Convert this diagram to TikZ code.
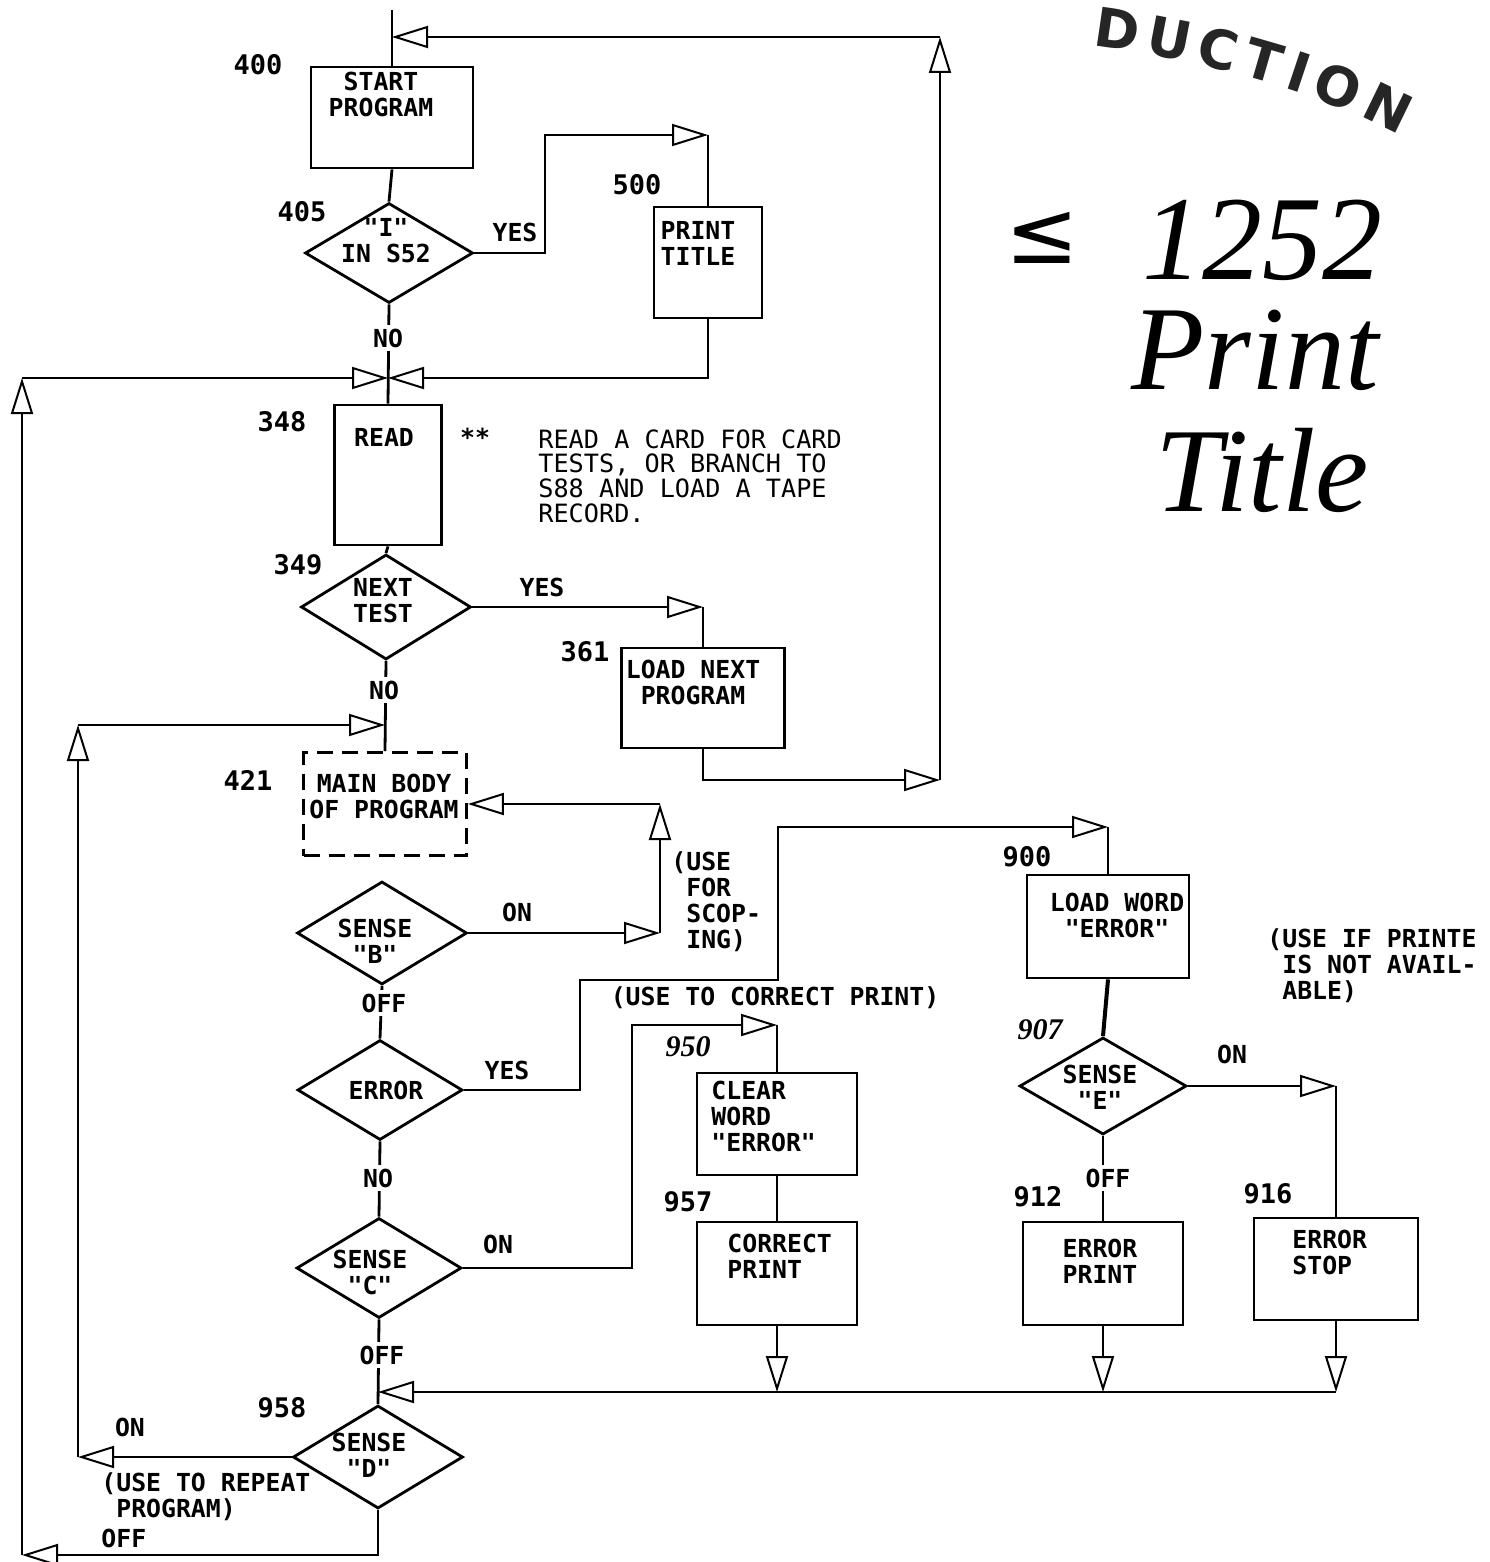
\documentclass[tikz,border=0pt]{standalone}
\usepackage{fontspec}
\setmonofont{DejaVu Sans Mono}
\renewcommand{\familydefault}{\ttdefault}
\newfontfamily\handfont{Liberation Serif}
\newfontfamily\stampfont{DejaVu Sans}
\usetikzlibrary{arrows.meta,shapes.geometric,decorations.text}
\begin{document}
\begin{tikzpicture}[x=0.5pt,y=-0.5pt,line width=1.4pt,
  box/.style={draw,line width=1.4pt,inner sep=0pt},
  dbox/.style={box,dash pattern=on 8pt off 4.5pt},
  dia/.style={diamond,draw,line width=1.4pt,inner sep=0pt},
  txt/.style={font=\ttfamily\bfseries\fontsize{12.4}{13}\selectfont,align=center,inner sep=0pt},
  ltxt/.style={txt,align=left},
  gap/.style={txt,fill=white,inner sep=2pt},
  num/.style={font=\ttfamily\bfseries\fontsize{13.5}{15}\selectfont,inner sep=0pt},
  hnum/.style={font=\handfont\bfseries\itshape\fontsize{15}{15}\selectfont,inner sep=0pt},
  note/.style={font=\ttfamily\fontsize{12.6}{12.4}\selectfont,align=left,inner sep=0pt},
  hand/.style={font=\handfont\itshape\fontsize{60}{60}\selectfont,inner sep=0pt},
  arr/.style={-{Triangle[open,length=18pt,width=11pt,line width=1pt]}}]
\fill[white] (0,0) rectangle (1489,1562);
\useasboundingbox (0,0) rectangle (1489,1562);

% ---------- boxes ----------
\node[box,minimum width=81pt,minimum height=50.5pt] (start) at (392,117.5) {};
\node[txt] (startT) at (381,94) {START\\PROGRAM};
\node[box,minimum width=54pt,minimum height=55.5pt] (print) at (708,262.5) {};
\node[ltxt] (printT) at (698,243) {PRINT\\TITLE};
\node[box,minimum width=53.5pt,minimum height=70pt] (read) at (388,475) {};
\node[txt] (readT) at (384,437) {READ};
\node[box,minimum width=81.5pt,minimum height=50pt] (lnp) at (703,698) {};
\node[txt] (lnpT) at (693,682) {LOAD NEXT\\PROGRAM};
\node[dbox,minimum width=81.5pt,minimum height=51.5pt] (main) at (385,804) {};
\node[txt] (mainT) at (384,796) {MAIN BODY\\OF PROGRAM};
\node[box,minimum width=81pt,minimum height=51.5pt] (ldw) at (1108,926.5) {};
\node[txt] (ldwT) at (1117,915) {LOAD WORD\\"ERROR"};
\node[box,minimum width=80pt,minimum height=51pt] (clear) at (777,1124) {};
\node[ltxt,anchor=west] (clearT) at (710,1116) {CLEAR\\WORD\\"ERROR"};
\node[box,minimum width=80pt,minimum height=51.5pt] (correct) at (777,1273.5) {};
\node[ltxt,anchor=west] (correctT) at (726,1256) {CORRECT\\PRINT};
\node[box,minimum width=80pt,minimum height=51.5pt] (eprint) at (1103,1273.5) {};
\node[txt] (eprintT) at (1100,1261) {ERROR\\PRINT};
\node[box,minimum width=82pt,minimum height=51pt] (estop) at (1336,1269) {};
\node[ltxt,anchor=west] (estopT) at (1291,1252) {ERROR\\STOP};

% ---------- diamonds ----------
\node[dia,minimum width=84pt,minimum height=50pt] (d405) at (389,253) {};
\node[txt] (d405T) at (386,241) {"I"\\IN S52};
\node[dia,minimum width=85pt,minimum height=52.5pt] (d349) at (386,607) {};
\node[txt] (d349T) at (383,601) {NEXT\\TEST};
\node[dia,minimum width=85pt,minimum height=51.5pt] (dB) at (382,933) {};
\node[txt] (dBT) at (375,941) {SENSE\\"B"};
\node[dia,minimum width=82.5pt,minimum height=50pt] (dErr) at (380,1090) {};
\node[txt] (dErrT) at (386,1090) {ERROR};
\node[dia,minimum width=82.5pt,minimum height=50pt] (dC) at (379,1268) {};
\node[txt] (dCT) at (370,1272) {SENSE\\"C"};
\node[dia,minimum width=85pt,minimum height=51.5pt] (dD) at (378,1457) {};
\node[txt] (dDT) at (369,1455) {SENSE\\"D"};
\node[dia,minimum width=83.5pt,minimum height=48.5pt] (dE) at (1103,1086) {};
\node[txt] (dET) at (1100,1087) {SENSE\\"E"};

% ---------- corner coordinates ----------
\coordinate (ctop0) at (392,10);
\coordinate (ctopL) at (392,37);
\coordinate (ctopR) at (940,37);
\coordinate (cR780) at (940,780);
\coordinate (c4a) at (545,135);
\coordinate (c4b) at (708,135);
\coordinate (cBow) at (388,378);
\coordinate (cL378) at (22,378);
\coordinate (cL1555) at (22,1555);
\coordinate (c7) at (703,607);
\coordinate (c8) at (385,725);
\coordinate (c9a) at (78,1457);
\coordinate (c9b) at (78,725);
\coordinate (c10a) at (660,933);
\coordinate (c10b) at (660,804);
\coordinate (c12a) at (580,980);
\coordinate (c12b) at (778,827);
\coordinate (c12c) at (1108,827);
\coordinate (c14) at (1336,1086);
\coordinate (c16) at (1103,1392);
\coordinate (c17) at (1336,1392);
\coordinate (c18) at (777,1392);
\coordinate (c19) at (378,1392);
\coordinate (c20a) at (632,1025);
\coordinate (c20b) at (777,1025);

% ---------- connectors ----------
\draw (ctop0) -- (start.north);
\draw[arr] (lnp.south) |- (cR780);
\draw[arr] (cR780) -- (ctopR);
\draw[arr] (ctopR) -- (ctopL);
\draw (start.south) -- (d405.north);
\draw[arr] (d405.east) -| (c4a) -- (c4b);
\draw (c4b) -- (print.north);
\draw[arr] (print.south) |- (cBow);
\draw[arr] (cL1555) -- (cL378);
\draw[arr] (cL378) -- (cBow);
\draw (d405.south) -- (read.north);
\draw (read.south) -- (d349.north);
\draw[arr] (d349.east) -- (c7);
\draw (c7) -- (lnp.north);
\draw (d349.south) -- (main.north);
\draw[arr] (dD.west) -- (c9a);
\draw[arr] (c9a) -- (c9b);
\draw[arr] (c9b) -- (c8);
\draw[arr] (dB.east) -- (c10a);
\draw[arr,line width=0.7pt] (c10a) -- (c10b);
\draw[arr] (c10b) -- (main.east);
\draw (dB.south) -- (dErr.north);
\draw[arr] (dErr.east) -| (c12a) -| (c12b) -- (c12c);
\draw (c12c) -- (ldw.north);
\draw[line width=2pt] (ldw.south) -- (dE.north);
\draw[arr] (dE.east) -- (c14);
\draw (c14) -- (estop.north);
\draw (dE.south) -- (eprint.north);
\draw[arr] (eprint.south) -- (c16);
\draw[arr] (estop.south) -- (c17);
\draw[arr] (correct.south) -- (c18);
\draw[arr] (c17) -- (c19);
\draw (dErr.south) -- (dC.north);
\draw (dC.south) -- (dD.north);
\draw[arr] (dC.east) -| (c20a) -- (c20b);
\draw (c20b) -- (clear.north);
\draw (clear.south) -- (correct.north);
\draw[arr] (dD.south) |- (cL1555);

% ---------- branch labels ----------
\node[txt] (yes1) at (515,232) {YES};
\node[gap] (no1) at (388,338) {NO};
\node[txt] (yes2) at (542,587) {YES};
\node[gap] (no2) at (384,690) {NO};
\node[txt] (on1) at (517,912) {ON};
\node[gap] (off1) at (384,1003) {OFF};
\node[txt] (yes3) at (507,1070) {YES};
\node[gap] (no3) at (378,1178) {NO};
\node[txt] (on2) at (498,1244) {ON};
\node[gap] (off2) at (382,1355) {OFF};
\node[txt] (on3) at (1232,1054) {ON};
\node[gap] (off3) at (1108,1178) {OFF};
\node[txt] (on4) at (130,1427) {ON};
\node[ltxt,anchor=west] (off4) at (100,1538) {OFF};

% ---------- numbers ----------
\node[num] (n400) at (258,65) {400};
\node[num] (n405) at (302,212) {405};
\node[num] (n500) at (637,185) {500};
\node[num] (n348) at (282,422) {348};
\node[num] (n349) at (298,565) {349};
\node[num] (n361) at (585,652) {361};
\node[num] (n421) at (248,780) {421};
\node[num] (n900) at (1027,857) {900};
\node[hnum] (n907) at (1040,1030) {907};
\node[hnum] (n950) at (688,1047) {950};
\node[num] (n957) at (688,1202) {957};
\node[num] (n912) at (1038,1197) {912};
\node[num] (n916) at (1268,1194) {916};
\node[num] (n958) at (282,1408) {958};

% ---------- notes ----------
\node[txt] (stars) at (475,437) {**};
\node[note,anchor=north west] (readnote) at (537,428) {READ A CARD FOR CARD\\TESTS, OR BRANCH TO\\S88 AND LOAD A TAPE\\RECORD.};
\node[ltxt,anchor=north west] (scopnote) at (670,850) {(USE\\\hphantom{(}FOR\\\hphantom{(}SCOP-\\\hphantom{(}ING)};
\node[txt] (corrnote) at (775,998) {(USE TO CORRECT PRINT)};
\node[ltxt,anchor=north west] (prnote) at (1266,927) {(USE IF PRINTE\\\hphantom{(}IS NOT AVAIL-\\\hphantom{(}ABLE)};
\node[ltxt,anchor=north west] (repnote) at (100,1471) {(USE TO REPEAT\\\hphantom{(}PROGRAM)};

% ---------- handwriting ----------
\node[font=\stampfont\fontsize{44}{44}\selectfont,inner sep=0pt] (hle) at (1042,238) {≤};
\node[hand] (h1252) at (1262,240) {1252};
\node[hand] (hprint) at (1255,350) {Print};
\node[hand] (htitle) at (1262,470) {Title};

% ---------- stamp (curved) ----------
\path[decorate,decoration={text along path,text align=fit to path,
  text={|\stampfont\bfseries\fontsize{27}{27}\selectfont\color{black!85}|DUCTION}}]
  (1092,46) .. controls (1220,62) and (1330,98) .. (1400,136);
\end{tikzpicture}
\end{document}
